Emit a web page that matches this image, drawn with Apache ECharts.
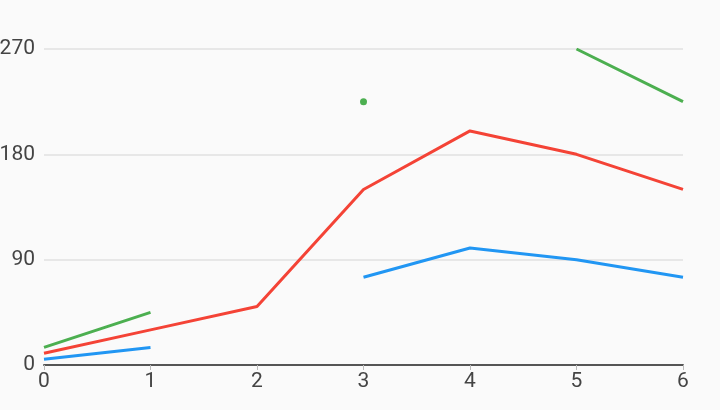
<!DOCTYPE html>
<html><head><meta charset="utf-8">
<script src="https://cdn.jsdelivr.net/npm/echarts@6/dist/echarts.min.js"></script>
<style>html,body{margin:0;padding:0;background:#fafafa}#c{width:720px;height:410px}</style>
</head><body><div id="c"></div>
<script>
const xValues = [0, 1, 2, 3, 4, 5, 6];
const yTicks = [0, 90, 180, 270];
const greenValues = [15, 45, null, 225, null, 270, 225];
const redValues = [10, 30, 50, 150, 200, 180, 150];
const blueValues = [5, 15, null, 75, 100, 90, 75];

function mk(vals, color) {
  return {
    type: 'line',
    data: vals.map((v, i) => [xValues[i], v]),
    connectNulls: false,
    symbol: 'circle',
    symbolSize: function (val, p) {
      const i = p.dataIndex;
      const prev = i > 0 ? vals[i - 1] : null;
      const next = i < vals.length - 1 ? vals[i + 1] : null;
      return (vals[i] != null && prev == null && next == null) ? 7 : 0;
    },
    showSymbol: true,
    itemStyle: { color: color },
    lineStyle: { color: color, width: 3 },
    emphasis: { disabled: true },
    animation: false
  };
}

const chart = echarts.init(document.getElementById('c'));
chart.setOption({
  backgroundColor: '#fafafa',
  grid: { left: 44, right: 37, top: 49, bottom: 45, containLabel: false, outerBoundsMode: 'none' },
  xAxis: {
    type: 'value', min: 0, max: 6, interval: 1,
    axisLine: { lineStyle: { color: '#555', width: 2 } },
    axisTick: { show: true, length: 5, lineStyle: { color: '#bbb' } },
    axisLabel: { color: '#444', fontFamily: 'Roboto', fontSize: 21, margin: 6 },
    splitLine: { show: false }
  },
  yAxis: {
    type: 'value', min: yTicks[0], max: yTicks[yTicks.length - 1], interval: 90,
    axisLine: { show: false },
    axisTick: { show: false },
    axisLabel: { color: '#444', fontFamily: 'Roboto', fontSize: 21, margin: 9 },
    splitLine: { lineStyle: { color: '#e0e0e0', width: 1.5 } }
  },
  series: [mk(greenValues, '#4caf50'), mk(redValues, '#f44336'), mk(blueValues, '#2196f3')]
});
</script></body></html>
